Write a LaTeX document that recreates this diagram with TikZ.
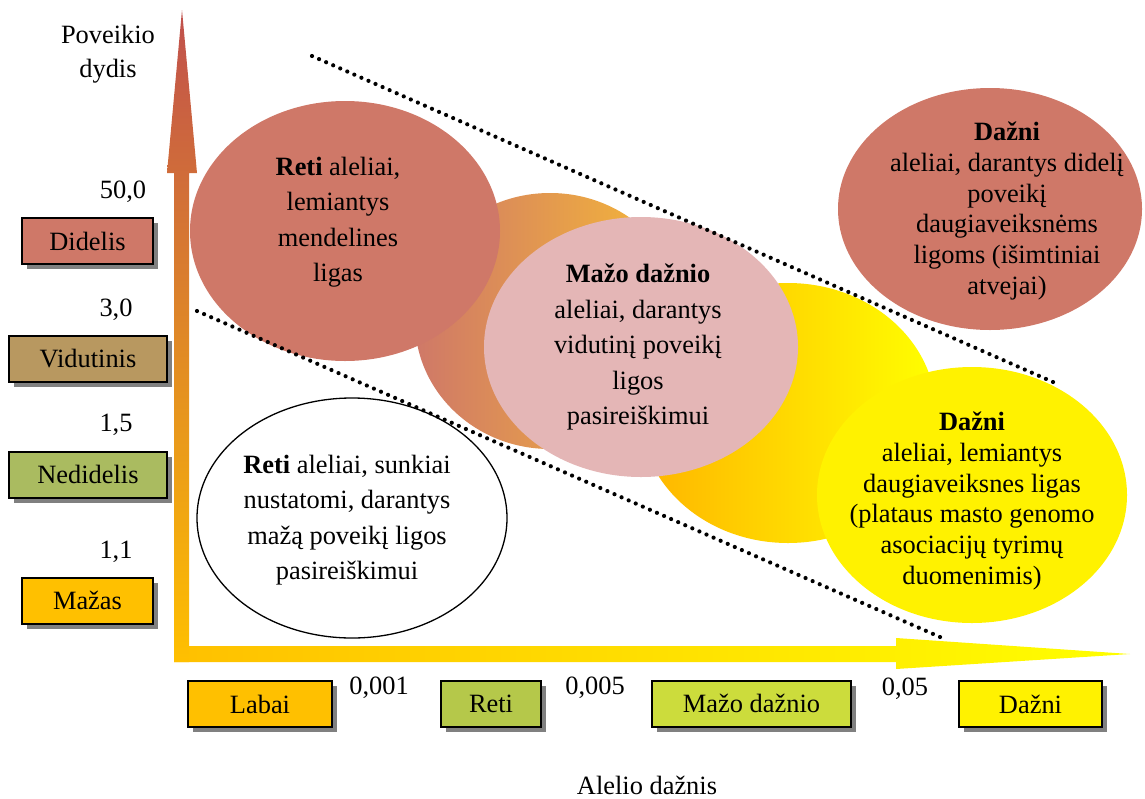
\documentclass[tikz,border=0pt]{standalone}
\usepackage{fontspec}
\setmainfont{Liberation Serif}
\usetikzlibrary{shapes.geometric,shadows,calc}
\definecolor{salmon}{RGB}{207,120,104}
\definecolor{tan}{RGB}{184,152,96}
\definecolor{olive}{RGB}{170,187,96}
\definecolor{amber}{RGB}{255,192,0}
\definecolor{lime}{RGB}{181,200,74}
\definecolor{limey}{RGB}{204,220,60}
\definecolor{pinkish}{RGB}{228,182,182}
\definecolor{axisred}{RGB}{192,80,77}
\definecolor{axismid}{RGB}{225,145,62}
\definecolor{orangeend}{RGB}{248,188,52}
\definecolor{yellowstart}{RGB}{255,180,0}
\begin{document}
\begin{tikzpicture}[x=1pt,y=-1pt,
  every node/.style={inner sep=0pt, outer sep=0pt, font=\fontsize{26.4}{35.5}\selectfont},
  lbox/.style={draw=black, line width=2pt, minimum height=46pt,
    drop shadow={shadow xshift=5pt, shadow yshift=-5pt, fill=black!50, opacity=1}},
  blob/.style={ellipse, draw=none},
  txt/.style={align=center},
  tight/.style={align=center, font=\fontsize{26.4}{30.7}\selectfont},
  dotmark/.style={fill=black}]
\useasboundingbox (0,0) rectangle (1145,798);

% ellipses
\node[blob, minimum width=270pt, minimum height=256pt, left color=salmon, right color=orangeend] (orangeE) at (550,321) {};
\node[blob, minimum width=296pt, minimum height=260pt, left color=yellowstart, right color=yellow] (yellowE) at (788,413) {};
\node[blob, minimum width=310pt, minimum height=260pt, fill=salmon] (retiE) at (345,231) {};
\node[blob, minimum width=314pt, minimum height=260pt, fill=pinkish] (pinkE) at (641,347) {};
\node[blob, minimum width=310pt, minimum height=256pt, fill=yellow] (dazniYE) at (972,495) {};
\node[blob, minimum width=304pt, minimum height=242pt, fill=salmon] (dazniSE) at (990,209) {};
\node[ellipse, draw=black, line width=1.3pt, fill=white, minimum width=310pt, minimum height=240pt] (whiteE) at (352,518) {};

% ellipse texts
\node[txt] (retiT) at (338,222) {\textbf{Reti} aleliai,\\lemiantys\\mendelines\\ligas};
\node[txt] (pinkT) at (638,347) {\textbf{Mažo dažnio}\\aleliai, darantys\\vidutinį poveikį\\ligos\\pasireiškimui};
\node[txt] (whiteT) at (347,520) {\textbf{Reti} aleliai, sunkiai\\nustatomi, darantys\\mažą poveikį ligos\\pasireiškimui};
\node[tight] (dazniYT) at (972,501) {\textbf{Dažni}\\aleliai, lemiantys\\daugiaveiksnes ligas\\(plataus masto genomo\\asociacijų tyrimų\\duomenimis)};
\node[tight] (dazniST) at (1007,211) {\textbf{Dažni}\\aleliai, darantys didelį\\poveikį\\daugiaveiksnėms\\ligoms (išimtiniai\\atvejai)};

% dotted guide lines (round dots)
\coordinate (u1) at (312,56);
\coordinate (u2) at (1053,382);
\coordinate (l1) at (197,311);
\coordinate (l2) at (940,637);
\foreach \i in {0,...,105}{
  \fill[dotmark] ($(u1)!\i/105!(u2)$) circle[radius=2.1pt];
  \fill[dotmark] ($(l1)!\i/105!(l2)$) circle[radius=2.1pt];
}

% axes
\shade[left color=amber, right color=yellow] (174,646) -- (896,646) -- (896,638) -- (1130,654) -- (896,669) -- (896,662) -- (174,662) -- cycle;
\shade[top color=axisred, middle color=axismid, bottom color=amber] (174,662) -- (174,173) -- (167,173) -- (182,10) -- (197,173) -- (189,173) -- (189,662) -- cycle;

% axis titles
\node[txt, font=\fontsize{26.4}{34}\selectfont] (ytitle) at (108,54) {Poveikio\\dydis};
\node (xtitle) at (647,785) {Alelio dažnis};

% left scale
\node (n50) at (123,192) {50,0};
\node (n30) at (116,310) {3,0};
\node (n15) at (116,425) {1,5};
\node (n11) at (116,552) {1,1};
\node[lbox, fill=salmon, minimum width=131pt] (didelis) at (87.5,241) {Didelis};
\node[lbox, fill=tan, minimum width=158pt] (vidutinis) at (88,359) {Vidutinis};
\node[lbox, fill=olive, minimum width=158pt] (nedidelis) at (88,474.5) {Nedidelis};
\node[lbox, fill=amber, minimum width=131pt] (mazas) at (87.5,600.5) {Mažas};

% bottom scale
\node (f001) at (379,688) {0,001};
\node (f005) at (595,688) {0,005};
\node (f05) at (905,689) {0,05};
\node[lbox, fill=amber, minimum width=144pt] (labai) at (260,704) {Labai};
\node[lbox, fill=lime, minimum width=100pt] (reti) at (491,704) {Reti};
\node[lbox, fill=limey, minimum width=199pt] (mazod) at (751.5,703.5) {Mažo dažnio};
\node[lbox, fill=yellow, minimum width=143pt] (dazni) at (1030.5,704) {Dažni};
\end{tikzpicture}
\end{document}
